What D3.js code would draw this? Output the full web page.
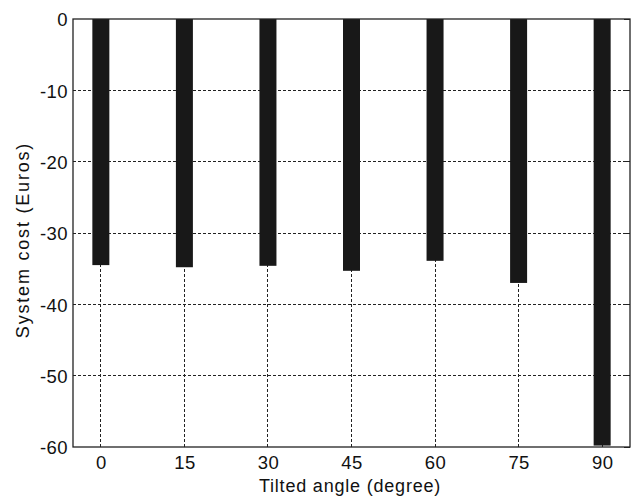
<!DOCTYPE html>
<html><head><meta charset="utf-8">
<script src="https://cdn.jsdelivr.net/npm/d3@7"></script>
<style>body{margin:0;background:#fff}svg{display:block}text{font-family:"Liberation Sans",Arial,sans-serif}</style>
</head><body>
<script>
const angles = [0, 15, 30, 45, 60, 75, 90];
const costs = [-34.5, -34.8, -34.6, -35.3, -33.9, -37.0, -59.8];
const yTicks = [0, -10, -20, -30, -40, -50, -60];

const W = 641, H = 498;
const m = {left: 73, top: 19, right: 630, bottom: 447};
const svg = d3.select("body").append("svg").attr("width", W).attr("height", H);

const x = d3.scaleLinear().domain([-5, 95]).range([m.left, m.right]);
const y = d3.scaleLinear().domain([-60, 0]).range([m.bottom, m.top]);

const g = svg.append("g");
// gridlines
g.selectAll(".hg").data(yTicks.filter(v => v !== 0 && v !== -60)).enter().append("line")
  .attr("x1", m.left).attr("x2", m.right).attr("y1", d => y(d)).attr("y2", d => y(d))
  .attr("stroke", "#222").attr("stroke-width", 1).attr("stroke-dasharray", "3,2").attr("shape-rendering","crispEdges");
g.selectAll(".vg").data(angles).enter().append("line")
  .attr("x1", d => x(d)).attr("x2", d => x(d)).attr("y1", m.top).attr("y2", m.bottom)
  .attr("stroke", "#222").attr("stroke-width", 1).attr("stroke-dasharray", "3,2").attr("shape-rendering","crispEdges");

// bars
const bw = 17;
g.selectAll(".bar").data(angles).enter().append("rect")
  .attr("x", d => x(d) - bw / 2).attr("width", bw)
  .attr("y", y(0)).attr("height", (d, i) => y(costs[i]) - y(0))
  .attr("fill", "#181818");

// axes
const yAxis = d3.axisLeft(y).tickValues(yTicks).tickSize(0).tickPadding(5).tickFormat(d => String(d));
const ya = svg.append("g").attr("transform", `translate(${m.left},0)`).call(yAxis);
const xAxis = d3.axisBottom(x).tickValues(angles).tickSize(0).tickPadding(9).tickFormat(d => String(d));
const xa = svg.append("g").attr("transform", `translate(0,${m.bottom})`).call(xAxis);
[ya, xa].forEach(a => {
  a.select(".domain").remove();
  a.selectAll("text").attr("font-size", 18.5).attr("letter-spacing", 0.4).attr("fill", "#111").attr("font-family", "Liberation Sans, Arial, sans-serif");
});
ya.selectAll("text").attr("dy", "0.36em");

// right inner ticks
svg.append("g").selectAll("line").data(yTicks).enter().append("line")
  .attr("x1", m.right - 6).attr("x2", m.right).attr("y1", d => y(d)).attr("y2", d => y(d))
  .attr("stroke", "#222").attr("shape-rendering","crispEdges");

// frame
svg.append("rect").attr("x", m.left).attr("y", m.top).attr("width", m.right - m.left).attr("height", m.bottom - m.top)
  .attr("fill", "none").attr("stroke", "#222").attr("stroke-width", 1.3);

svg.append("text").attr("x", 350).attr("y", 492).attr("text-anchor", "middle")
  .attr("font-size", 18).attr("letter-spacing", 0.8).attr("fill", "#111").text("Tilted angle (degree)");
svg.append("text").attr("transform", `translate(29,240) rotate(-90)`).attr("text-anchor", "middle")
  .attr("font-size", 18).attr("letter-spacing", 1.8).attr("fill", "#111").text("System cost (Euros)");
</script>
</body></html>
